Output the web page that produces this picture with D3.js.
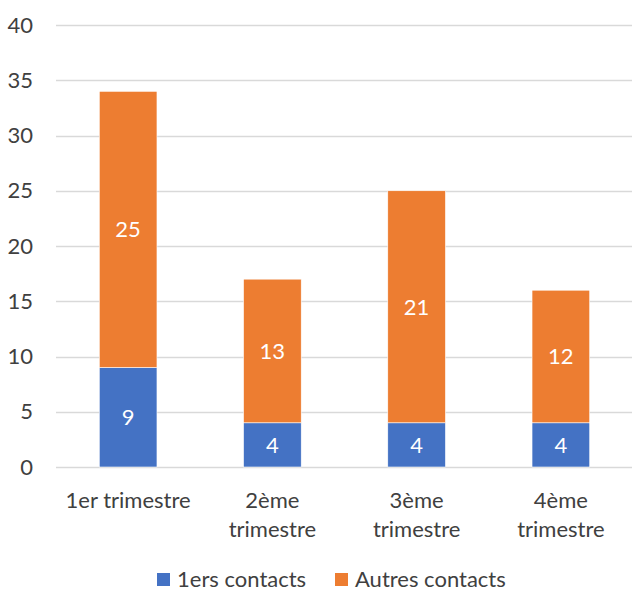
<!DOCTYPE html>
<html>
<head>
<meta charset="utf-8">
<script src="https://cdn.jsdelivr.net/npm/d3@7"></script>
<style>
  body { margin: 0; background: #fff; }
  text { font-family: Lato, "Open Sans", sans-serif; fill: #404040; }
</style>
</head>
<body>
<script>
var categories = ["1er trimestre", "2ème trimestre", "3ème trimestre", "4ème trimestre"];
var premiers = [9, 4, 4, 4];
var autres = [25, 13, 21, 12];
var seriesNames = ["1ers contacts", "Autres contacts"];
var yTicks = [0, 5, 10, 15, 20, 25, 30, 35, 40];

var width = 632,
  height = 589,
  plotLeft = 56,
  plotRight = 633,
  plotTop = 25,
  plotBottom = 467,
  fontSize = 22;

var colors = ["#4472C4", "#ED7D31"];

var rows = categories.map((c, i) => ({ cat: c, s0: premiers[i], s1: autres[i] }));
var stack = d3.stack().keys(["s0", "s1"])(rows);

var svg = d3
  .select("body")
  .append("svg")
  .attr("width", width)
  .attr("height", height);

var xScale = d3
  .scaleBand()
  .domain(categories)
  .range([plotLeft, plotRight])
  .paddingInner(0.6)
  .paddingOuter(0.3);

var yScale = d3.scaleLinear().domain([0, 40]).range([plotBottom, plotTop]);

// gridlines
svg
  .append("g")
  .selectAll("line")
  .data(yTicks)
  .enter()
  .append("line")
  .attr("x1", plotLeft)
  .attr("x2", width)
  .attr("y1", (d) => Math.round(yScale(d)) + 0.5)
  .attr("y2", (d) => Math.round(yScale(d)) + 0.5)
  .attr("stroke", "#D9D9D9")
  .attr("stroke-width", 1.3);

// y labels
var yAxis = d3.axisLeft(yScale).tickValues(yTicks).tickSize(0).tickPadding(0);
var yg = svg
  .append("g")
  .attr("transform", `translate(33,0)`)
  .call(yAxis);
yg.select(".domain").remove();
yg.attr("font-family", null).attr("font-size", null);
yg.selectAll("text")
  .attr("font-size", fontSize)
  .attr("fill", "#404040");

// bars
var layers = svg
  .selectAll(".layer")
  .data(stack)
  .enter()
  .append("g")
  .attr("class", "layer")
  .attr("fill", (d, i) => colors[i]);

layers
  .selectAll("rect")
  .data((d) => d)
  .enter()
  .append("rect")
  .attr("x", (d) => xScale(d.data.cat))
  .attr("y", (d) => yScale(d[1]))
  .attr("width", xScale.bandwidth())
  .attr("height", (d) => yScale(d[0]) - yScale(d[1]))
  .attr("stroke", "#fff")
  .attr("stroke-width", 0.6);

layers
  .selectAll(".val")
  .data((d) => d)
  .enter()
  .append("text")
  .attr("class", "val")
  .attr("x", (d) => xScale(d.data.cat) + xScale.bandwidth() / 2)
  .attr("y", (d) => (yScale(d[0]) + yScale(d[1])) / 2)
  .attr("dy", "0.36em")
  .attr("text-anchor", "middle")
  .attr("font-size", fontSize)
  .style("fill", "#fff")
  .text((d) => d[1] - d[0]);

// x labels, wrapped when too wide for the band
var xg = svg
  .append("g")
  .attr("transform", `translate(0,${plotBottom})`)
  .call(d3.axisBottom(xScale).tickSize(0).tickPadding(0));
xg.select(".domain").remove();
xg.attr("font-family", null).attr("font-size", null);
xg.selectAll("text")
  .attr("font-size", fontSize)
  .attr("fill", "#404040")
  .each(function (d) {
    var t = d3.select(this);
    t.text(null).attr("y", 0).attr("dy", null);
    var probe = t.append("tspan").text(d);
    var fits = probe.node().getComputedTextLength() < 135;
    probe.remove();
    var lines = fits ? [d] : d.split(" ");
    lines.forEach((w, i) => {
      t.append("tspan")
        .attr("x", 0)
        .attr("y", 41 + i * 29)
        .text(w);
    });
  });

// legend
var legend = svg.append("g").attr("transform", `translate(157,573)`);

var legendX = [0, 178];
seriesNames.forEach((name, i) => {
  var g = legend.append("g").attr("transform", `translate(${legendX[i]},0)`);
  g.append("rect").attr("width", 13).attr("height", 13).attr("fill", colors[i]);
  g.append("text")
    .attr("x", 20)
    .attr("y", 13.5)
    .attr("font-size", fontSize)
    .text(name);
});
</script>
</body>
</html>
